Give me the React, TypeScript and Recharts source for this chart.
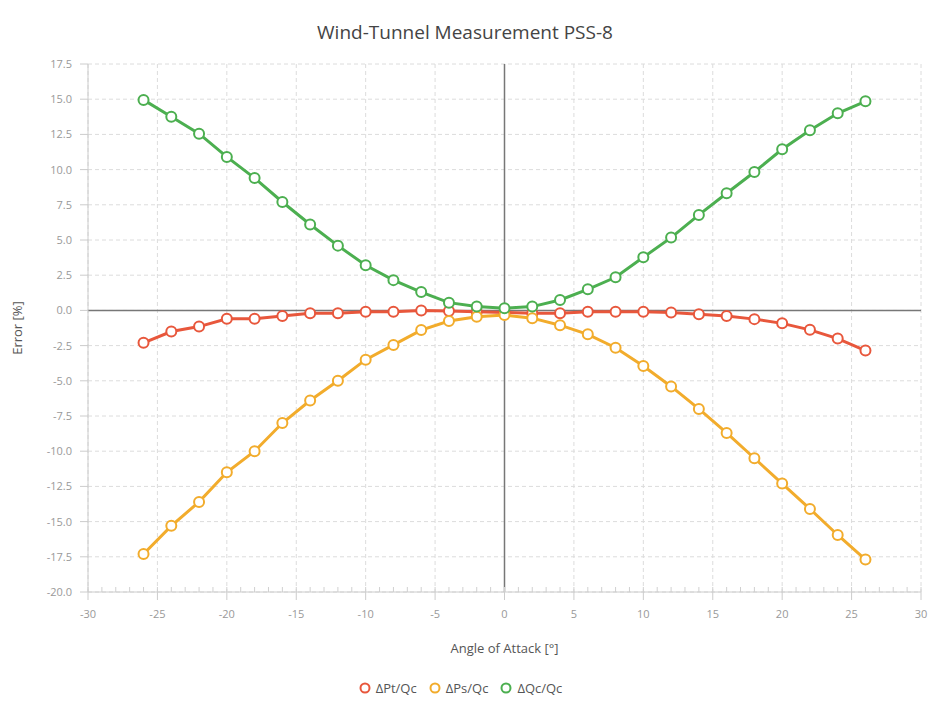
import { LineChart, Line, XAxis, YAxis, CartesianGrid, ReferenceLine, Legend, Label } from 'recharts';

const angles = [-26, -24, -22, -20, -18, -16, -14, -12, -10, -8, -6, -4, -2, 0, 2, 4, 6, 8, 10, 12, 14, 16, 18, 20, 22, 24, 26];
const dPt = [-2.3, -1.5, -1.15, -0.6, -0.6, -0.4, -0.2, -0.2, -0.1, -0.1, 0.0, -0.05, -0.1, -0.15, -0.2, -0.2, -0.1, -0.1, -0.1, -0.15, -0.28, -0.4, -0.62, -0.92, -1.38, -2.0, -2.85];
const dPs = [-17.3, -15.3, -13.6, -11.5, -10.0, -8.0, -6.4, -5.0, -3.5, -2.45, -1.4, -0.75, -0.45, -0.33, -0.55, -1.05, -1.7, -2.65, -3.95, -5.4, -7.0, -8.7, -10.5, -12.3, -14.1, -15.95, -17.7];
const dQc = [14.95, 13.75, 12.55, 10.9, 9.4, 7.7, 6.1, 4.6, 3.2, 2.15, 1.3, 0.55, 0.27, 0.15, 0.27, 0.74, 1.5, 2.35, 3.77, 5.17, 6.78, 8.32, 9.83, 11.44, 12.8, 14.0, 14.85];

const xTicks = [-30, -25, -20, -15, -10, -5, 0, 5, 10, 15, 20, 25, 30];
const yTicks = [-20, -17.5, -15, -12.5, -10, -7.5, -5, -2.5, 0, 2.5, 5, 7.5, 10, 12.5, 15, 17.5];
const xMinor = Array.from({ length: 61 }, (_, i) => i - 30);
const yMinor = Array.from({ length: 76 }, (_, i) => -20 + i * 0.5);

const series = [
  { key: 'dPt', name: 'ΔPt/Qc', color: '#e8573c' },
  { key: 'dPs', name: 'ΔPs/Qc', color: '#f2ac2c' },
  { key: 'dQc', name: 'ΔQc/Qc', color: '#4caf50' },
];

const data = angles.map((a, i) => ({ angle: a, dPt: dPt[i], dPs: dPs[i], dQc: dQc[i] }));

const font = '"Open Sans", "Noto Sans", sans-serif';

// keeps the tick line but draws no label
const EmptyTick = () => <g />;

function LegendContent() {
  return (
    <div style={{ height: 20, display: 'flex', justifyContent: 'center', alignItems: 'center', gap: 12, fontFamily: font, fontSize: 13, color: '#555' }}>
      {series.map((s) => (
        <div key={s.key} style={{ display: 'flex', alignItems: 'center', gap: 5 }}>
          <svg width={12} height={12}>
            <circle cx={6} cy={6} r={4.5} fill="#fff" stroke={s.color} strokeWidth={2} />
          </svg>
          <span>{s.name}</span>
        </div>
      ))}
    </div>
  );
}

export default function App() {
  return (
    <div style={{ position: 'absolute', left: 0, top: 0, width: 930, height: 706, background: '#fff', fontFamily: font }}>
      <div style={{ position: 'absolute', left: 0, top: 19, width: 930, textAlign: 'center', fontSize: 19, color: '#444' }}>
        Wind-Tunnel Measurement PSS-8
      </div>
      <LineChart width={930} height={706} data={data} margin={{ top: 64, right: 9, bottom: 8, left: 0 }}>
        <CartesianGrid stroke="#dcdcdc" strokeDasharray="4 3" />
        <XAxis
          xAxisId="minor"
          dataKey="angle"
          type="number"
          domain={[-30, 30]}
          ticks={xMinor}
          interval={0}
          tick={<EmptyTick />}
          mirror
          height={1}
          tickSize={5}
          axisLine={false}
          tickLine={{ stroke: '#d0d0d0' }}
        />
        <XAxis
          dataKey="angle"
          type="number"
          domain={[-30, 30]}
          ticks={xTicks}
          interval={0}
          height={86}
          tickSize={8}
          tickMargin={10}
          axisLine={{ stroke: '#ccc' }}
          tickLine={{ stroke: '#ccc' }}
          tick={{ fill: '#999', fontSize: 11 }}
        >
          <Label value="Angle of Attack [°]" position="insideTop" offset={52} style={{ fill: '#555', fontSize: 13 }} />
        </XAxis>
        <YAxis
          yAxisId="minor"
          type="number"
          domain={[-20, 17.5]}
          ticks={yMinor}
          interval={0}
          tick={<EmptyTick />}
          mirror
          width={1}
          tickSize={5}
          axisLine={false}
          tickLine={{ stroke: '#d0d0d0' }}
        />
        <YAxis
          type="number"
          domain={[-20, 17.5]}
          ticks={yTicks}
          interval={0}
          width={88}
          tickSize={8}
          tickMargin={8}
          axisLine={{ stroke: '#ccc' }}
          tickLine={{ stroke: '#ccc' }}
          tick={{ fill: '#999', fontSize: 11 }}
          tickFormatter={(v: number) => v.toFixed(1)}
        >
          <Label value="Error [%]" angle={-90} position="insideLeft" offset={17} style={{ fill: '#555', fontSize: 13, textAnchor: 'middle' }} />
        </YAxis>
        <ReferenceLine x={0} stroke="#777" strokeWidth={1.5} />
        <ReferenceLine y={0} stroke="#777" strokeWidth={1.5} />
        {series.map((s) => (
          <Line
            key={s.key}
            dataKey={s.key}
            name={s.name}
            stroke={s.color}
            strokeWidth={3}
            dot={{ r: 5, fill: '#fff', stroke: s.color, strokeWidth: 2 }}
            isAnimationActive={false}
          />
        ))}
        <Legend verticalAlign="bottom" height={20} content={<LegendContent />} />
      </LineChart>
    </div>
  );
}
